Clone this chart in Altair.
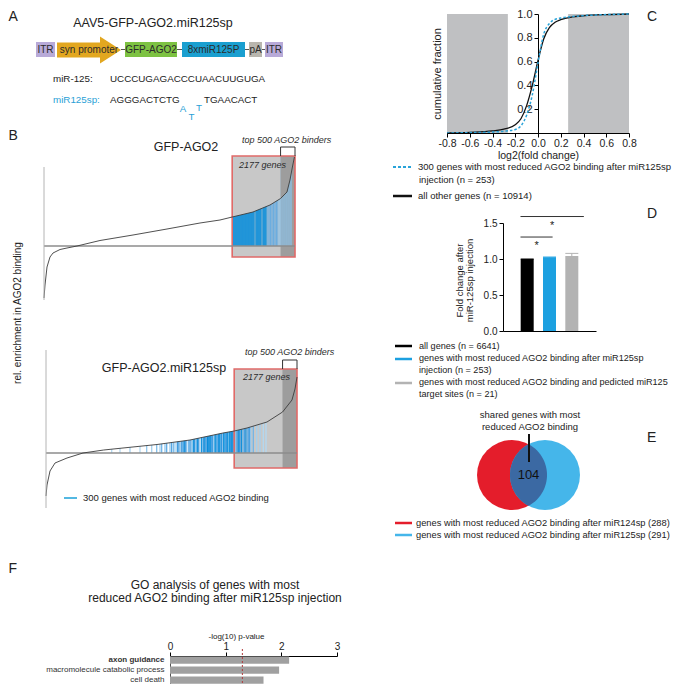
import altair as alt
import numpy as np
import pandas as pd

# ============================ data ============================
# A - AAV construct and sequences
construct_parts = ["ITR", "syn promoter", "GFP-AGO2", "8xmiR125P", "pA", "ITR"]
mir125_seq = "UCCCUGAGACCCUAACUUGUGA"
sponge_5p = "AGGGACTCTG"
sponge_bulge = ["A", "T", "T"]
sponge_3p = "TGAACACT"

# B - genes ranked by AGO2 enrichment (rank, relative enrichment)
N_GENES = 8700
WINDOW_GENES = 2177
TOP_BINDERS = 500
b1_rank = [0, 35, 104, 208, 312, 555, 797, 1144, 1941, 3085, 4263, 5407, 6100, 6523,
           7244, 7833, 8200, 8422, 8526, 8610, 8680]
b1_enrich = [-5.2, -3.9, -2.1, -1.1, -0.7, -0.35, -0.2, 0.0, 0.55, 1.1, 1.7, 2.3, 2.6, 2.9,
             3.4, 4.1, 4.75, 5.4, 6.6, 7.9, 8.9]
b1_hit_rank = [6551, 6585, 6620, 6655, 6689, 6724, 6759, 6793, 6828, 6863, 6897, 6932, 6967,
               7001, 7036, 7071, 7105, 7140, 7175, 7209, 7244, 7279, 7348, 7383, 7417, 7452,
               7487, 7521, 7591, 7625, 7660, 7695, 7764, 7833, 7868, 7937, 7972, 8041, 8076,
               8145, 8214, 8284, 8353, 8422, 8492, 8561]
b1_hit_drop = [1.0] * 32 + [0.7] * 7 + [0.45] * 7

b2_rank = [0, 35, 139, 312, 728, 1282, 2000, 2669, 3847, 4991, 6135, 6523, 6967, 7660,
           8200, 8526, 8630, 8700]
b2_enrich = [-4.3, -3.2, -1.8, -1.0, -0.5, 0.0, 0.3, 0.5, 0.85, 1.3, 2.0, 2.2, 2.5, 3.1,
             4.1, 5.3, 6.4, 7.6]
b2_hit_rank = [2277, 2565, 2911, 3258, 3490, 3664, 3837, 3951, 4010, 4124,
               4183, 4298, 4357, 4420, 4471, 4551, 4600, 4644, 4703, 4750,
               4794, 4830, 4877, 4956, 5000, 5050, 5105, 5150, 5199, 5244,
               5290, 5338, 5397, 5452, 5480, 5511, 5540, 5570, 5600, 5625,
               5655, 5684, 5715, 5743, 5780, 5823, 5860, 5892, 5930, 5972,
               6000, 6031, 6080, 6125, 6160, 6204, 6230, 6263, 6300, 6353,
               6395, 6437, 6470, 6492, 6540, 6585, 6620, 6665, 6700, 6724,
               6783, 6839, 6880, 6932, 6970, 7012, 7050, 7095, 7185, 7303,
               7417, 7532, 7625]
b2_hit_drop = [0.2, 0.2, 0.3, 0.2, 0.4, 0.3, 0.5, 0.3, 0.6, 0.4,
               0.7, 0.4, 0.8, 0.5, 0.3, 0.9, 0.7, 0.6, 0.8, 0.9,
               1.0, 0.8, 0.5, 0.9, 0.7, 0.4, 1.0, 0.9, 0.6, 1.0,
               0.8, 0.4, 1.0, 0.9, 0.9, 1.0, 0.8, 0.7, 1.0, 1.0,
               0.9, 1.0, 1.0, 0.8, 0.9, 0.4, 1.0, 1.0, 0.8, 0.9,
               1.0, 1.0, 0.9, 0.5, 1.0, 1.0, 0.8, 0.9, 1.0, 1.0,
               0.9, 1.0, 1.0, 0.8, 0.9, 0.4, 0.8, 1.0, 0.9, 0.9,
               1.0, 0.5, 0.8, 1.0, 0.6, 0.7, 0.8, 0.4, 0.6, 0.3,
               0.3, 0.2, 0.2]

# C - cumulative distributions of log2 fold change
c_log2fc = [-0.8, -0.6, -0.4, -0.3, -0.2, -0.15, -0.1, -0.05, 0.0, 0.05, 0.1, 0.15, 0.2,
            0.3, 0.4, 0.6, 0.8]
c_other = [0.0, 0.006, 0.018, 0.032, 0.07, 0.12, 0.23, 0.40, 0.61, 0.79, 0.885, 0.93,
           0.952, 0.975, 0.985, 0.995, 1.0]
c_reduced = [0.0, 0.003, 0.008, 0.015, 0.03, 0.06, 0.15, 0.32, 0.59, 0.83, 0.92, 0.955,
             0.966, 0.978, 0.986, 0.995, 1.0]
c_shade_from = [-0.8, 0.265]
c_shade_to = [-0.265, 0.8]

# D - fold change after miR-125sp injection
d_groups = ["all genes", "reduced AGO2 binding", "reduced + predicted sites"]
d_mean = [1.0, 1.023, 1.04]
d_sem = [0.0, 0.004, 0.038]
d_sig_from = [-0.3, -0.3]
d_sig_to = [2.54, 1.14]
d_sig_y = [1.59, 1.305]

# E - Venn
e_sets = ["miR124sp", "miR125sp"]
e_sizes = [288, 291]
e_shared = 104

# F - GO analysis
f_terms = ["axon guidance", "macromolecule catabolic process", "cell death"]
f_logp = [2.14, 1.96, 1.68]
f_threshold = 1.3

# ============================ style / layout ============================
FONT = "Liberation Sans"
INK = "#222222"
M = 8
W, H = 669, 676
CYAN = "#2a9fd6"
B_LIGHT = "#c8c8c8"
B_DARK = "#9d9d9d"
B_RED = "#e06a68"
BLUE_DARK = "#0a8edb"
BLUE_LIGHT = "#d4ebf9"


def P(v):
    return v - M


def XP(f="x"):
    return alt.X(f"{f}:Q", scale=None, axis=None)


def YP(f="y"):
    return alt.Y(f"{f}:Q", scale=None, axis=None)


def texts(rows, size=10.0, color=INK, align="left", style="normal", weight="normal",
          angle=None, baseline="middle"):
    df = pd.DataFrame(rows, columns=["t", "x", "y"])
    df["x"] = df["x"] - M
    df["y"] = df["y"] - M
    kw = dict(font=FONT, fontSize=size, color=color, align=align, baseline=baseline,
              fontStyle=style, fontWeight=weight)
    if angle is not None:
        kw["angle"] = angle
    return alt.Chart(df).mark_text(**kw).encode(x=XP(), y=YP(), text="t:N")


def segs(rows, color, width=1.0, dash=None):
    df = pd.DataFrame(rows, columns=["x", "y", "x2", "y2"]) - M
    kw = dict(color=color, strokeWidth=width, strokeCap="butt")
    if dash:
        kw["strokeDash"] = dash
    return alt.Chart(df).mark_rule(**kw).encode(x=XP(), y=YP(), x2="x2:Q", y2="y2:Q")


layers = []

# ---------------------------------------------------------------- panel A
A_SPANS = [(36, 55), (57, 121), (125, 177), (182, 245), (249, 262), (265, 283)]
A_ROW = (42, 57)
a_df = pd.DataFrame({"part": construct_parts,
                     "x": [s[0] - M for s in A_SPANS], "x2": [s[1] - M for s in A_SPANS]})
a_df["y"] = A_ROW[0] - M
a_df["y2"] = A_ROW[1] - M
a_df["cx"] = (a_df["x"] + a_df["x2"]) / 2
a_df["cy"] = P(50)
layers.append(segs([(121, 49.5, 265, 49.5)], "#555555", 1))
layers.append(
    alt.Chart(a_df[a_df["part"] != "syn promoter"]).mark_rect().encode(
        x=XP(), x2="x2:Q", y=YP(), y2="y2:Q",
        color=alt.Color("part:N", scale=alt.Scale(
            domain=["ITR", "GFP-AGO2", "8xmiR125P", "pA"],
            range=["#b8aad8", "#7dc242", "#1a9fd0", "#b9b6ae"]), legend=None)))
arrow_path = ("M -2.37 -0.556 L 0.815 -0.556 L 0.815 -1 L 2.37 0 L 0.815 1 "
              "L 0.815 0.556 L -2.37 0.556 Z")
layers.append(
    alt.Chart(a_df[a_df["part"] == "syn promoter"]).mark_point(
        shape=arrow_path, size=729, filled=True, opacity=1, strokeWidth=0, color="#e2a720"
    ).encode(x=XP("cx"), y=YP("cy")))
layers.append(
    alt.Chart(a_df).mark_text(font=FONT, fontSize=10, color="#2b2b2b", baseline="middle").encode(
        x=XP("cx"), y=YP("cy"), text="part:N"))
layers.append(texts([("AAV5-GFP-AGO2.miR125sp", 153, 23)], size=12.5, align="center"))
layers.append(texts([("miR-125:", 53, 79), (mir125_seq, 110, 79),
                     (sponge_5p, 110, 100), (sponge_3p, 204, 100)], size=9.8))
layers.append(texts([("miR125sp:", 53, 100)], size=9.8, color=CYAN))
layers.append(texts([(sponge_bulge[0], 183, 109), (sponge_bulge[1], 191.5, 117),
                     (sponge_bulge[2], 199, 108)], size=9.8, color=CYAN, align="center"))


# ---------------------------------------------------------------- panel B
def panel_b(c_rank, c_val, h_rank, h_drop, x_px, base_px, box_y, axis_y, bracket_y,
            white_from=None):
    xs = alt.Scale(domain=[0, N_GENES], range=[P(x_px[0]), P(x_px[1])], nice=False, zero=False)
    ys = alt.Scale(domain=[-6, 11], range=[P(base_px + 60), P(base_px - 110)],
                   nice=False, zero=False)

    def X(f):
        return alt.X(f, scale=xs, axis=None)

    def Y(f):
        return alt.Y(f, scale=ys, axis=None)

    win_lo = N_GENES - WINDOW_GENES
    top_lo = N_GENES - TOP_BINDERS
    lo, hi = box_y
    curve = pd.DataFrame({"rank": c_rank, "val": c_val})
    win = pd.DataFrame({"x": [win_lo], "x2": [N_GENES], "y": [lo], "y2": [hi]})
    top = pd.DataFrame({"x": [top_lo], "x2": [N_GENES], "y": [lo], "y2": [hi]})
    out = []
    out.append(alt.Chart(win).mark_rect(color=B_LIGHT).encode(
        x=X("x:Q"), x2="x2:Q", y=Y("y:Q"), y2="y2:Q"))
    out.append(alt.Chart(top).mark_rect(color=B_DARK).encode(
        x=X("x:Q"), x2="x2:Q", y=Y("y:Q"), y2="y2:Q"))
    hits = pd.DataFrame({"rank": h_rank, "drop": h_drop})
    hits["y0"] = 0.0
    hits["y1"] = hi
    out.append(alt.Chart(hits).mark_rule(strokeWidth=1.3).encode(
        x=X("rank:Q"), y=Y("y0:Q"), y2="y1:Q",
        color=alt.Color("drop:Q", scale=alt.Scale(domain=[0, 1], range=[BLUE_LIGHT, BLUE_DARK]),
                        legend=None)))
    parts = [(win_lo, top_lo, B_LIGHT), (top_lo, N_GENES, B_DARK)]
    if white_from is not None:
        parts.insert(0, (white_from, win_lo, "#ffffff"))
    for a, b, col in parts:
        sub = curve[(curve["rank"] >= a) & (curve["rank"] <= b)].assign(top=hi)
        out.append(alt.Chart(sub).mark_area(color=col, interpolate="linear", opacity=1).encode(
            x=X("rank:Q"), y=Y("val:Q"), y2="top:Q"))
    out.append(alt.Chart(win).mark_rect(fillOpacity=0, stroke=B_RED, strokeWidth=1.6).encode(
        x=X("x:Q"), x2="x2:Q", y=Y("y:Q"), y2="y2:Q"))
    out.append(alt.Chart(pd.DataFrame({"x": [0], "x2": [N_GENES], "y": [0.0]})).mark_rule(
        color="#8d8d8d", strokeWidth=1.5).encode(x=X("x:Q"), x2="x2:Q", y=Y("y:Q")))
    out.append(alt.Chart(curve).mark_line(color="#3c3c3c", strokeWidth=0.9,
                                          interpolate="linear").encode(
        x=X("rank:Q"), y=Y("val:Q")))
    out.append(alt.Chart(pd.DataFrame({"x": [0], "y": [axis_y[0]], "y2": [axis_y[1]]})).mark_rule(
        color="#b4b4b4", strokeWidth=1).encode(x=X("x:Q"), y=Y("y:Q"), y2="y2:Q"))
    brk = pd.DataFrame({"rank": [top_lo, top_lo, N_GENES, N_GENES],
                        "val": [hi, bracket_y, bracket_y, hi], "o": [0, 1, 2, 3]})
    out.append(alt.Chart(brk).mark_line(color="#333333", strokeWidth=1).encode(
        x=X("rank:Q"), y=Y("val:Q"), order="o:Q"))
    return alt.layer(*out)


layers.append(panel_b(b1_rank, b1_enrich, b1_hit_rank, b1_hit_drop, (44, 295), 246,
                      (-1.1, 9.0), (-5.4, 7.9), 9.9))
layers.append(panel_b(b2_rank, b2_enrich, b2_hit_rank, b2_hit_drop, (46, 297), 453,
                      (-1.5, 8.4), (-5.5, 10.3), 9.3, white_from=2000))
layers.append(texts([("GFP-AGO2", 186, 147), ("GFP-AGO2.miR125sp", 164, 368)],
                    size=12.5, align="center"))
layers.append(texts([("top 500 AGO2 binders", 242, 140), ("2177 genes", 239, 165),
                     ("top 500 AGO2 binders", 245, 352), ("2177 genes", 243, 377)],
                    size=9, style="italic", color="#2b2b2b"))
layers.append(texts([("rel. enrichment in AGO2 binding", 18, 313)], size=10,
                    align="center", angle=270))
layers.append(segs([(64, 498, 77, 498)], "#1aa0d8", 1.5))
layers.append(texts([("300 genes with most reduced AGO2 binding", 83, 498)], size=9.5))

# ---------------------------------------------------------------- panel C
xs_c = alt.Scale(domain=[-0.8, 0.8], range=[P(447), P(629)], nice=False, zero=False)
ys_c = alt.Scale(domain=[0, 1], range=[P(133), P(14)], nice=False, zero=False)
ax_cx = alt.Axis(orient="bottom", offset=P(133) - H, values=[-0.8, -0.6, -0.4, -0.2, 0.0, 0.2,
                                                             0.4, 0.6, 0.8],
                 labelExpr="(datum.value < 0 ? '-' : '') + format(abs(datum.value), '.1f')",
                 labelFontSize=10.5, tickSize=4, labelPadding=1, title="log2(fold change)",
                 titleFontSize=10.5, titlePadding=1.5, zindex=1)
ax_cy = alt.Axis(orient="left", offset=-P(538), values=[0.2, 0.4, 0.6, 0.8, 1.0], format=".1f",
                 labelFontSize=11, tickSize=4, labelPadding=2, title="cumulative fraction",
                 titleFontSize=11, titleX=-96)


def XC(f):
    return alt.X(f, scale=xs_c, axis=ax_cx)


def YC(f):
    return alt.Y(f, scale=ys_c, axis=ax_cy)


c_rects = pd.DataFrame({"x": c_shade_from, "x2": c_shade_to, "y": [0.0, 0.0], "y2": [1.0, 1.0]})
c_curves = pd.DataFrame({"fc": c_log2fc, "other": c_other, "reduced": c_reduced})
layers.append(alt.layer(
    alt.Chart(c_rects).mark_rect(color="#bfc0c2").encode(
        x=XC("x:Q"), x2="x2:Q", y=YC("y:Q"), y2="y2:Q"),
    alt.Chart(c_curves).mark_line(color="#111111", strokeWidth=1.3, interpolate="monotone").encode(
        x=XC("fc:Q"), y=YC("other:Q")),
    alt.Chart(c_curves).mark_line(color="#29a3d9", strokeWidth=1.5, strokeDash=[2.5, 2],
                                  interpolate="monotone").encode(
        x=XC("fc:Q"), y=YC("reduced:Q")),
))
layers.append(segs([(393, 167, 412, 167)], "#29a3d9", 2.2, dash=[3, 2]))
layers.append(segs([(393, 196, 412, 196)], "#111111", 2.5))
layers.append(texts([("300 genes with most reduced AGO2 binding after miR125sp", 418, 167),
                     ("injection (n = 253)", 419, 180),
                     ("all other genes (n = 10914)", 418, 196)], size=9.5))

# ---------------------------------------------------------------- panel D
xs_d = alt.Scale(domain=[-0.86, 2.86], range=[P(503), P(596)], nice=False, zero=False)
ys_d = alt.Scale(domain=[0, 1.5], range=[P(331), P(223)], nice=False, zero=False)
ax_dx = alt.Axis(orient="bottom", offset=P(331) - H, labels=False, ticks=False, title=None)
ax_dy = alt.Axis(orient="left", offset=-P(503), values=[0, 0.5, 1.0, 1.5], format=".1f",
                 labelFontSize=10, tickSize=4, labelPadding=2,
                 title=["Fold change after", "miR-125sp injection"], titleFontSize=9.5,
                 titleLineHeight=10.5, titleX=-39, titleY=P(280))


def XD(f):
    return alt.X(f, scale=xs_d, axis=ax_dx)


def YD(f):
    return alt.Y(f, scale=ys_d, axis=ax_dy)


d_df = pd.DataFrame({"grp": d_groups, "idx": [0, 1, 2], "mean": d_mean, "sem": d_sem})
d_df["base"] = 0.0
d_df["hi"] = d_df["mean"] + d_df["sem"]
d_col = alt.Color("grp:N", scale=alt.Scale(domain=d_groups,
                                           range=["#000000", "#1ca0e0", "#b3b3b3"]), legend=None)
sig = pd.DataFrame({"x": d_sig_from, "x2": d_sig_to, "y": d_sig_y})
sig["mid"] = (sig["x"] + sig["x2"]) / 2
sig["t"] = "*"
layers.append(alt.layer(
    alt.Chart(d_df).mark_bar(size=13).encode(x=XD("idx:Q"), y=YD("mean:Q"), y2="base:Q",
                                             color=d_col),
    alt.Chart(d_df).mark_rule(strokeWidth=1).encode(x=XD("idx:Q"), y=YD("mean:Q"), y2="hi:Q",
                                                    color=d_col),
    alt.Chart(d_df).mark_tick(orient="horizontal", size=13, thickness=1, opacity=1).encode(
        x=XD("idx:Q"), y=YD("hi:Q"), color=d_col),
    alt.Chart(sig).mark_rule(color="#333333", strokeWidth=1).encode(
        x=XD("x:Q"), x2="x2:Q", y=YD("y:Q")),
    alt.Chart(sig).mark_text(font=FONT, fontSize=11, color=INK, baseline="top", dy=3).encode(
        x=XD("mid:Q"), y=YD("y:Q"), text="t:N"),
))
layers.append(segs([(395, 346, 412, 346)], "#000000", 2.5))
layers.append(segs([(395, 359, 412, 359)], "#1ca0e0", 2.5))
layers.append(segs([(395, 383, 412, 383)], "#b3b3b3", 2.5))
layers.append(texts([("all genes (n = 6641)", 419, 346),
                     ("genes with most reduced AGO2 binding after miR125sp", 419, 358),
                     ("injection (n = 253)", 419, 370),
                     ("genes with most reduced AGO2 binding and pedicted miR125", 419, 382),
                     ("target sites (n = 21)", 419, 394)], size=9.1))

# ---------------------------------------------------------------- panel E
E_R = 35.0
E_CX = [512, 545]
E_CY = 475
d_half = (E_CX[1] - E_CX[0]) / 2 / E_R
a_ang = np.arccos(d_half)
t_right = np.linspace(np.pi - a_ang, np.pi + a_ang, 30)
t_left = np.linspace(-a_ang, a_ang, 30)
pts = [(d_half + np.cos(t), np.sin(t)) for t in t_right] + \
      [(-d_half + np.cos(t), np.sin(t)) for t in t_left]
lens_path = "M " + " L ".join(f"{x:.4f} {y:.4f}" for x, y in pts) + " Z"
venn = pd.DataFrame({"set": e_sets, "n": e_sizes, "x": [P(v) for v in E_CX], "y": P(E_CY)})
layers.append(alt.Chart(venn).mark_point(shape="circle", size=(2 * E_R) ** 2, filled=True,
                                         opacity=1, strokeWidth=0).encode(
    x=XP(), y=YP(),
    color=alt.Color("set:N", scale=alt.Scale(domain=e_sets, range=["#e41d2b", "#45b6ea"]),
                    legend=None)))
lens = pd.DataFrame({"x": [P((E_CX[0] + E_CX[1]) / 2)], "y": [P(E_CY)], "t": [str(e_shared)]})
layers.append(alt.Chart(lens).mark_point(shape=lens_path, size=(2 * E_R) ** 2, filled=True,
                                         opacity=1, strokeWidth=0, color="#3b69a3").encode(
    x=XP(), y=YP()))
layers.append(alt.Chart(lens).mark_text(font=FONT, fontSize=13, color="#111111",
                                        baseline="middle").encode(x=XP(), y=YP(), text="t:N"))
layers.append(segs([(529, 434, 529, 462)], "#111111", 2))
layers.append(texts([("shared genes with most", 530, 415), ("reduced AGO2 binding", 530, 427)],
                    size=9.5, align="center"))
layers.append(segs([(395, 523, 412, 523)], "#e41d2b", 2.5))
layers.append(segs([(395, 535, 412, 535)], "#45b6ea", 2.5))
layers.append(texts([(f"genes with most reduced AGO2 binding after miR124sp ({e_sizes[0]})", 416, 523),
                     (f"genes with most reduced AGO2 binding after miR125sp ({e_sizes[1]})", 416, 535)],
                    size=9.3))

# ---------------------------------------------------------------- panel F
xs_f = alt.Scale(domain=[0, 3], range=[P(170), P(337)], nice=False, zero=False)
ys_f = alt.Scale(domain=f_terms, range=[P(656.5), P(688)], paddingInner=0.27,
                 paddingOuter=0.21, align=0)
ax_fx = alt.Axis(orient="top", offset=-P(656), values=[0, 1, 2, 3], format="d",
                 labelFontSize=10, tickSize=4, labelPadding=1, title="-log(10) p-value",
                 titleFontSize=8, titlePadding=1, titleX=P(236))
ax_fy = alt.Axis(orient="left", offset=-P(170), ticks=False, labelFontSize=8, labelPadding=6,
                 labelColor="#333333", domainColor="#555555", title=None,
                 labelFontWeight={"condition": {"test": "datum.value === 'axon guidance'",
                                                "value": "bold"}, "value": "normal"})
f_df = pd.DataFrame({"term": f_terms, "logp": f_logp})
f_df["zero"] = 0.0
layers.append(alt.layer(
    alt.Chart(f_df).mark_bar(color="#a0a0a0").encode(
        x=alt.X("logp:Q", scale=xs_f, axis=ax_fx), x2="zero:Q",
        y=alt.Y("term:N", scale=ys_f, axis=ax_fy)),
    alt.Chart(pd.DataFrame({"thr": [f_threshold]})).mark_rule(
        color="#b03a3a", strokeWidth=1, strokeDash=[2, 2]).encode(
        x=alt.X("thr:Q", scale=xs_f, axis=ax_fx), y=alt.value(P(649)), y2=alt.value(P(690))),
))
layers.append(texts([("GO analysis of genes with most", 215, 585),
                     ("reduced AGO2 binding after miR125sp injection", 215, 598)],
                    size=12, align="center"))

# ---------------------------------------------------------------- panel letters
layers.append(texts([("A", 8.5, 17), ("B", 8.5, 136), ("F", 8.5, 569), ("C", 647, 17),
                     ("D", 647, 214), ("E", 647, 438)], size=14))

chart = alt.layer(*layers).resolve_scale(
    x="independent", y="independent", color="independent"
).properties(
    width=W, height=H, padding=0, autosize="none"
).configure_view(stroke=None).configure_axis(
    grid=False, domainColor="#000000", tickColor="#000000", labelFont=FONT, titleFont=FONT,
    labelColor=INK, titleColor=INK, titleFontWeight="normal", labelFlush=False,
    labelOverlap=False, domainWidth=1, tickWidth=1
)

chart.save("out.html", embed_options={"renderer": "svg", "actions": False})
